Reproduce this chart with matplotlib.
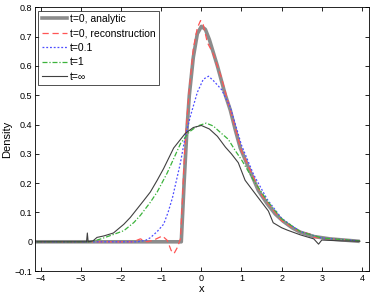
import numpy as np
import matplotlib
matplotlib.use("Agg")
import matplotlib.pyplot as plt

plt.rcParams['font.family'] = ['Liberation Sans', 'DejaVu Sans']

# t=0, analytic
x_an = [-4.1, -0.5, -0.43, -0.36, -0.3, -0.2, -0.1, 0.0, 0.1, 0.2, 0.4, 0.6, 0.72, 0.85,
        0.97, 1.2, 1.42, 1.64, 1.84, 2.04, 2.26, 2.46, 2.8, 3.2, 3.9]
y_an = [0.0, 0.0, 0.2, 0.38, 0.5, 0.63, 0.71, 0.735, 0.725, 0.69, 0.6, 0.5, 0.45, 0.38,
        0.32, 0.245, 0.175, 0.13, 0.095, 0.07, 0.048, 0.033, 0.018, 0.01, 0.002]

# t=0, reconstruction
x_rec = [-4.1, -1.7, -1.52, -1.35, -1.2, -0.97, -0.85, -0.75, -0.68, -0.6, -0.52, -0.47,
         -0.42, -0.36, -0.3, -0.2, -0.1, -0.02, 0.05, 0.15, 0.3, 0.5, 0.7, 1.0, 1.5, 2.0, 2.4,
         2.6, 2.7, 2.8, 3.2, 3.95]
y_rec = [0.0, 0.0, 0.01, 0.0, 0.005, 0.02, 0.005, -0.03, -0.04, -0.02, 0.01, 0.15,
         0.3, 0.42, 0.52, 0.66, 0.73, 0.755, 0.74, 0.68, 0.64, 0.56, 0.46, 0.31, 0.16, 0.072, 0.038,
         0.03, 0.027, 0.015, 0.01, 0.003]

# t=0.1
x_t01 = [-4.1, -1.6, -1.39, -1.27, -1.1, -0.94, -0.83, -0.72, -0.62, -0.52, -0.4, -0.27,
         -0.1, 0.05, 0.18, 0.3, 0.5, 0.72, 1.0, 1.3, 1.64, 2.0, 2.46, 3.0, 3.95]
y_t01 = [0.0, 0.0, 0.005, 0.014, 0.035, 0.06, 0.1, 0.15, 0.21, 0.27, 0.36, 0.43,
         0.51, 0.555, 0.565, 0.55, 0.52, 0.46, 0.33, 0.23, 0.145, 0.08, 0.035, 0.013, 0.003]

# t=1
x_t1 = [-4.1, -2.75, -2.5, -2.19, -1.93, -1.68, -1.52, -1.27, -1.1, -0.85, -0.52, -0.3,
        -0.1, 0.12, 0.3, 0.5, 0.67, 0.85, 1.0, 1.3, 1.64, 2.0, 2.46, 3.0, 3.95]
y_t1 = [0.0, 0.0, 0.01, 0.025, 0.038, 0.066, 0.09, 0.135, 0.17, 0.235, 0.335, 0.375,
        0.395, 0.405, 0.395, 0.37, 0.35, 0.31, 0.28, 0.21, 0.14, 0.078, 0.035, 0.013, 0.003]

# t=inf
x_inf = [-4.1, -2.86, -2.84, -2.82, -2.7, -2.6, -2.43, -2.19, -1.93, -1.77, -1.44, -1.27,
         -1.1, -0.94, -0.69, -0.4, -0.2, 0.0, 0.2, 0.4, 0.6, 0.75, 0.92, 1.09, 1.42, 1.67,
         1.79, 2.0, 2.14, 2.46, 2.8, 2.92, 3.0, 3.5, 3.95]
y_inf = [0.0, 0.0, 0.03, 0.0, 0.003, 0.015, 0.02, 0.03, 0.06, 0.083, 0.14, 0.17,
         0.21, 0.25, 0.32, 0.37, 0.39, 0.397, 0.385, 0.36, 0.323, 0.3, 0.27, 0.21, 0.15, 0.105,
         0.065, 0.048, 0.04, 0.024, 0.01, -0.008, 0.006, 0.003, 0.002]

fig = plt.figure(figsize=(3.74, 2.95), dpi=100)
ax = fig.add_axes([0.094, 0.081, 0.893, 0.894])

ax.plot(x_an, y_an, color='#8c8c8c', lw=2.6, label='t=0, analytic')
ax.plot(x_rec, y_rec, color='#ff5555', lw=0.9, dashes=(5, 3), label='t=0, reconstruction')
ax.plot(x_t01, y_t01, color='#4d4dff', lw=0.9, dashes=(1.5, 1.5), label='t=0.1')
ax.plot(x_t1, y_t1, color='#3cb33c', lw=0.9, dashes=(4, 1.5, 1, 1.5), label='t=1')
ax.plot(x_inf, y_inf, color='#404040', lw=0.8, label='t=\u221e')

ax.set_xlim(-4.14, 4.18)
ax.set_ylim(-0.1, 0.8)
ax.set_xticks(np.arange(-4, 5, 1))
ax.set_yticks(np.arange(-0.1, 0.81, 0.1))
ax.set_yticklabels(['\u22120.1', '0', '0.1', '0.2', '0.3', '0.4', '0.5', '0.6', '0.7', '0.8'])
ax.tick_params(direction='in', top=True, right=True, labelsize=6.5, length=3, width=0.6, pad=2)
for s in ax.spines.values():
    s.set_linewidth(0.6)
ax.set_xlabel('x', fontsize=8, labelpad=1)
ax.set_ylabel('Density', fontsize=8, labelpad=2)

leg = ax.legend(loc='upper left', fontsize=7.5, frameon=True, fancybox=False,
                edgecolor='black', handlelength=2.4, borderpad=0.35, labelspacing=0.42,
                handletextpad=0.3, borderaxespad=0.3)
leg.get_frame().set_linewidth(0.6)

fig.savefig('out.png', dpi=100)
